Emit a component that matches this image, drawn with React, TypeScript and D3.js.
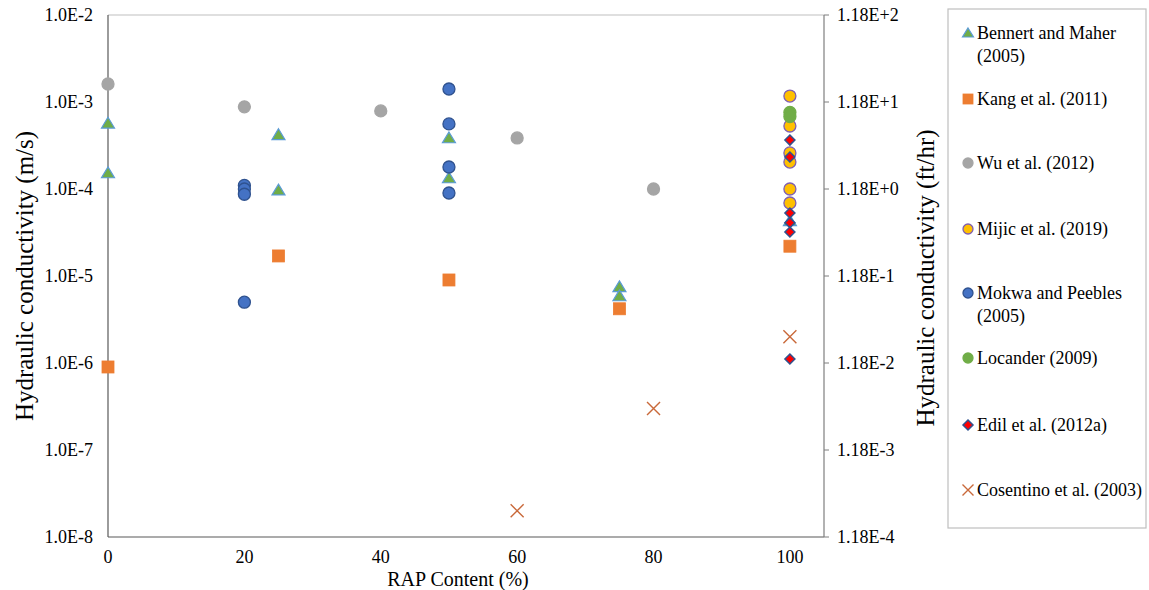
import React from "react";
import * as d3 from "d3";

const bennertX = [0, 0, 25, 25, 50, 50, 75, 75, 100];
const bennertY = [5.7e-4, 1.53e-4, 4.2e-4, 9.7e-5, 3.86e-4, 1.34e-4, 7.5e-6, 5.9e-6, 4.3e-5];
const kangX = [0, 25, 50, 75, 100];
const kangY = [9e-7, 1.7e-5, 9e-6, 4.2e-6, 2.2e-5];
const wuX = [0, 20, 40, 60, 80];
const wuY = [1.61e-3, 8.8e-4, 7.9e-4, 3.86e-4, 1.0e-4];
const mijicX = [100, 100, 100, 100, 100, 100];
const mijicY = [1.17e-3, 5.3e-4, 2.6e-4, 2.04e-4, 1.0e-4, 6.9e-5];
const mokwaX = [20, 20, 20, 20, 50, 50, 50, 50];
const mokwaY = [1.1e-4, 1.0e-4, 8.7e-5, 5e-6, 1.41e-3, 5.6e-4, 1.79e-4, 9e-5];
const locanderX = [100, 100];
const locanderY = [7.6e-4, 6.8e-4];
const edilX = [100, 100, 100, 100, 100, 100];
const edilY = [3.65e-4, 2.33e-4, 5.3e-5, 4.1e-5, 3.2e-5, 1.11e-6];
const cosentinoX = [60, 80, 100];
const cosentinoY = [2e-8, 3e-7, 2e-6];

const xTicks = [0, 20, 40, 60, 80, 100];
const yExponents = [-2, -3, -4, -5, -6, -7, -8];
const leftTickLabels = ["1.0E-2", "1.0E-3", "1.0E-4", "1.0E-5", "1.0E-6", "1.0E-7", "1.0E-8"];
const rightTickLabels = ["1.18E+2", "1.18E+1", "1.18E+0", "1.18E-1", "1.18E-2", "1.18E-3", "1.18E-4"];

const FONT = "Liberation Serif, DejaVu Serif, serif";

type Shape = "triangle" | "square" | "circle" | "diamond" | "cross";
interface Series {
  name: string[];
  xs: number[];
  ys: number[];
  shape: Shape;
  fill: string;
  stroke: string;
}

const series: Series[] = [
  { name: ["Bennert and Maher", "(2005)"], xs: bennertX, ys: bennertY, shape: "triangle", fill: "#70AD47", stroke: "#5B9BD5" },
  { name: ["Kang et al. (2011)"], xs: kangX, ys: kangY, shape: "square", fill: "#ED7D31", stroke: "#ED7D31" },
  { name: ["Wu et al. (2012)"], xs: wuX, ys: wuY, shape: "circle", fill: "#A5A5A5", stroke: "#A5A5A5" },
  { name: ["Mijic et al. (2019)"], xs: mijicX, ys: mijicY, shape: "circle", fill: "#FFC000", stroke: "#7F5FB0" },
  { name: ["Mokwa and Peebles", "(2005)"], xs: mokwaX, ys: mokwaY, shape: "circle", fill: "#4472C4", stroke: "#2F528F" },
  { name: ["Locander (2009)"], xs: locanderX, ys: locanderY, shape: "circle", fill: "#70AD47", stroke: "#70AD47" },
  { name: ["Edil et al. (2012a)"], xs: edilX, ys: edilY, shape: "diamond", fill: "#FF0000", stroke: "#2F528F" },
  { name: ["Cosentino et al. (2003)"], xs: cosentinoX, ys: cosentinoY, shape: "cross", fill: "none", stroke: "#C9693A" },
];

const legendY = [33, 99, 163, 229, 293, 358, 425, 490];

function Marker({ shape, x, y, fill, stroke, s }: { shape: Shape; x: number; y: number; fill: string; stroke: string; s: number }) {
  const h = s / 2;
  if (shape === "circle") return <circle cx={x} cy={y} r={h} fill={fill} stroke={stroke} strokeWidth={1.3} />;
  if (shape === "square") return <rect x={x - h} y={y - h} width={s} height={s} fill={fill} stroke={stroke} strokeWidth={0.8} />;
  if (shape === "triangle")
    return (
      <path d={`M${x},${y - h}L${x + h + 0.5},${y + h * 0.8}L${x - h - 0.5},${y + h * 0.8}Z`} fill={fill} stroke={stroke} strokeWidth={1.2} />
    );
  if (shape === "diamond")
    return <path d={`M${x},${y - h}L${x + h},${y}L${x},${y + h}L${x - h},${y}Z`} fill={fill} stroke={stroke} strokeWidth={1.5} />;
  return (
    <path d={`M${x - h},${y - h}L${x + h},${y + h}M${x - h},${y + h}L${x + h},${y - h}`} fill="none" stroke={stroke} strokeWidth={1.4} />
  );
}

const sizeFor: Record<Shape, number> = { circle: 12, square: 12, triangle: 12, diamond: 10, cross: 13 };

export default function App() {
  const W = 1149;
  const H = 590;
  const left = 108, right = 824, top = 15, bottom = 537;
  const x = d3.scaleLinear().domain([0, 105]).range([left, right]);
  const y = d3.scaleLog().domain([1e-8, 1e-2]).range([bottom, top]);

  return (
    <svg width={W} height={H} fontFamily={FONT} style={{ position: "absolute", left: 0, top: 0 }}>
      <rect width={W} height={H} fill="#fff" />
      <line x1={left} x2={right} y1={top} y2={top} stroke="#BFBFBF" strokeWidth={1.2} />
      <line x1={left} x2={left} y1={top} y2={bottom} stroke="#595959" strokeWidth={1.2} />
      <line x1={left} x2={right} y1={bottom} y2={bottom} stroke="#595959" strokeWidth={1.2} />
      <line x1={right} x2={right} y1={top} y2={bottom} stroke="#7F7F7F" strokeWidth={1.2} />
      {yExponents.map((e) => (
        <line key={"rt" + e} x1={right} x2={right + 5} y1={y(Math.pow(10, e))} y2={y(Math.pow(10, e))} stroke="#7F7F7F" strokeWidth={1} />
      ))}
      {yExponents.map((e, i) => (
        <text key={"lt" + e} x={93} y={y(Math.pow(10, e))} dy="0.35em" textAnchor="end" fontSize={18} fill="#000">
          {leftTickLabels[i]}
        </text>
      ))}
      {yExponents.map((e, i) => (
        <text key={"rl" + e} x={837} y={y(Math.pow(10, e))} dy="0.35em" textAnchor="start" fontSize={18} fill="#000">
          {rightTickLabels[i]}
        </text>
      ))}
      {xTicks.map((t) => (
        <text key={"xt" + t} x={x(t)} y={563} textAnchor="middle" fontSize={18} fill="#000">
          {t}
        </text>
      ))}
      <text transform={`translate(24,${(top + bottom) / 2}) rotate(-90)`} textAnchor="middle" dy="0.35em" fontSize={25} fill="#000">
        Hydraulic conductivity (m/s)
      </text>
      <text transform={`translate(925,${(top + bottom) / 2 + 2}) rotate(-90)`} textAnchor="middle" dy="0.35em" fontSize={25} fill="#000">
        Hydraulic conductivity (ft/hr)
      </text>
      <text x={458} y={586} textAnchor="middle" fontSize={20} fill="#000">
        RAP Content (%)
      </text>
      {series.map((s, si) => (
        <g key={"s" + si}>
          {s.xs.map((xv, i) => (
            <Marker key={i} shape={s.shape} x={x(xv)} y={y(s.ys[i])} fill={s.fill} stroke={s.stroke} s={sizeFor[s.shape]} />
          ))}
        </g>
      ))}
      <rect x={948} y={9} width={198} height={519} fill="#fff" stroke="#BFBFBF" strokeWidth={1.2} />
      {series.map((s, si) => (
        <g key={"l" + si}>
          <Marker shape={s.shape} x={968} y={legendY[si]} fill={s.fill} stroke={s.stroke} s={s.shape === "cross" ? 11 : 10} />
          {s.name.map((ln, li) => (
            <text key={li} x={977} y={legendY[si] + li * 22.5} dy="0.35em" fontSize={18} fill="#000">
              {ln}
            </text>
          ))}
        </g>
      ))}
    </svg>
  );
}
